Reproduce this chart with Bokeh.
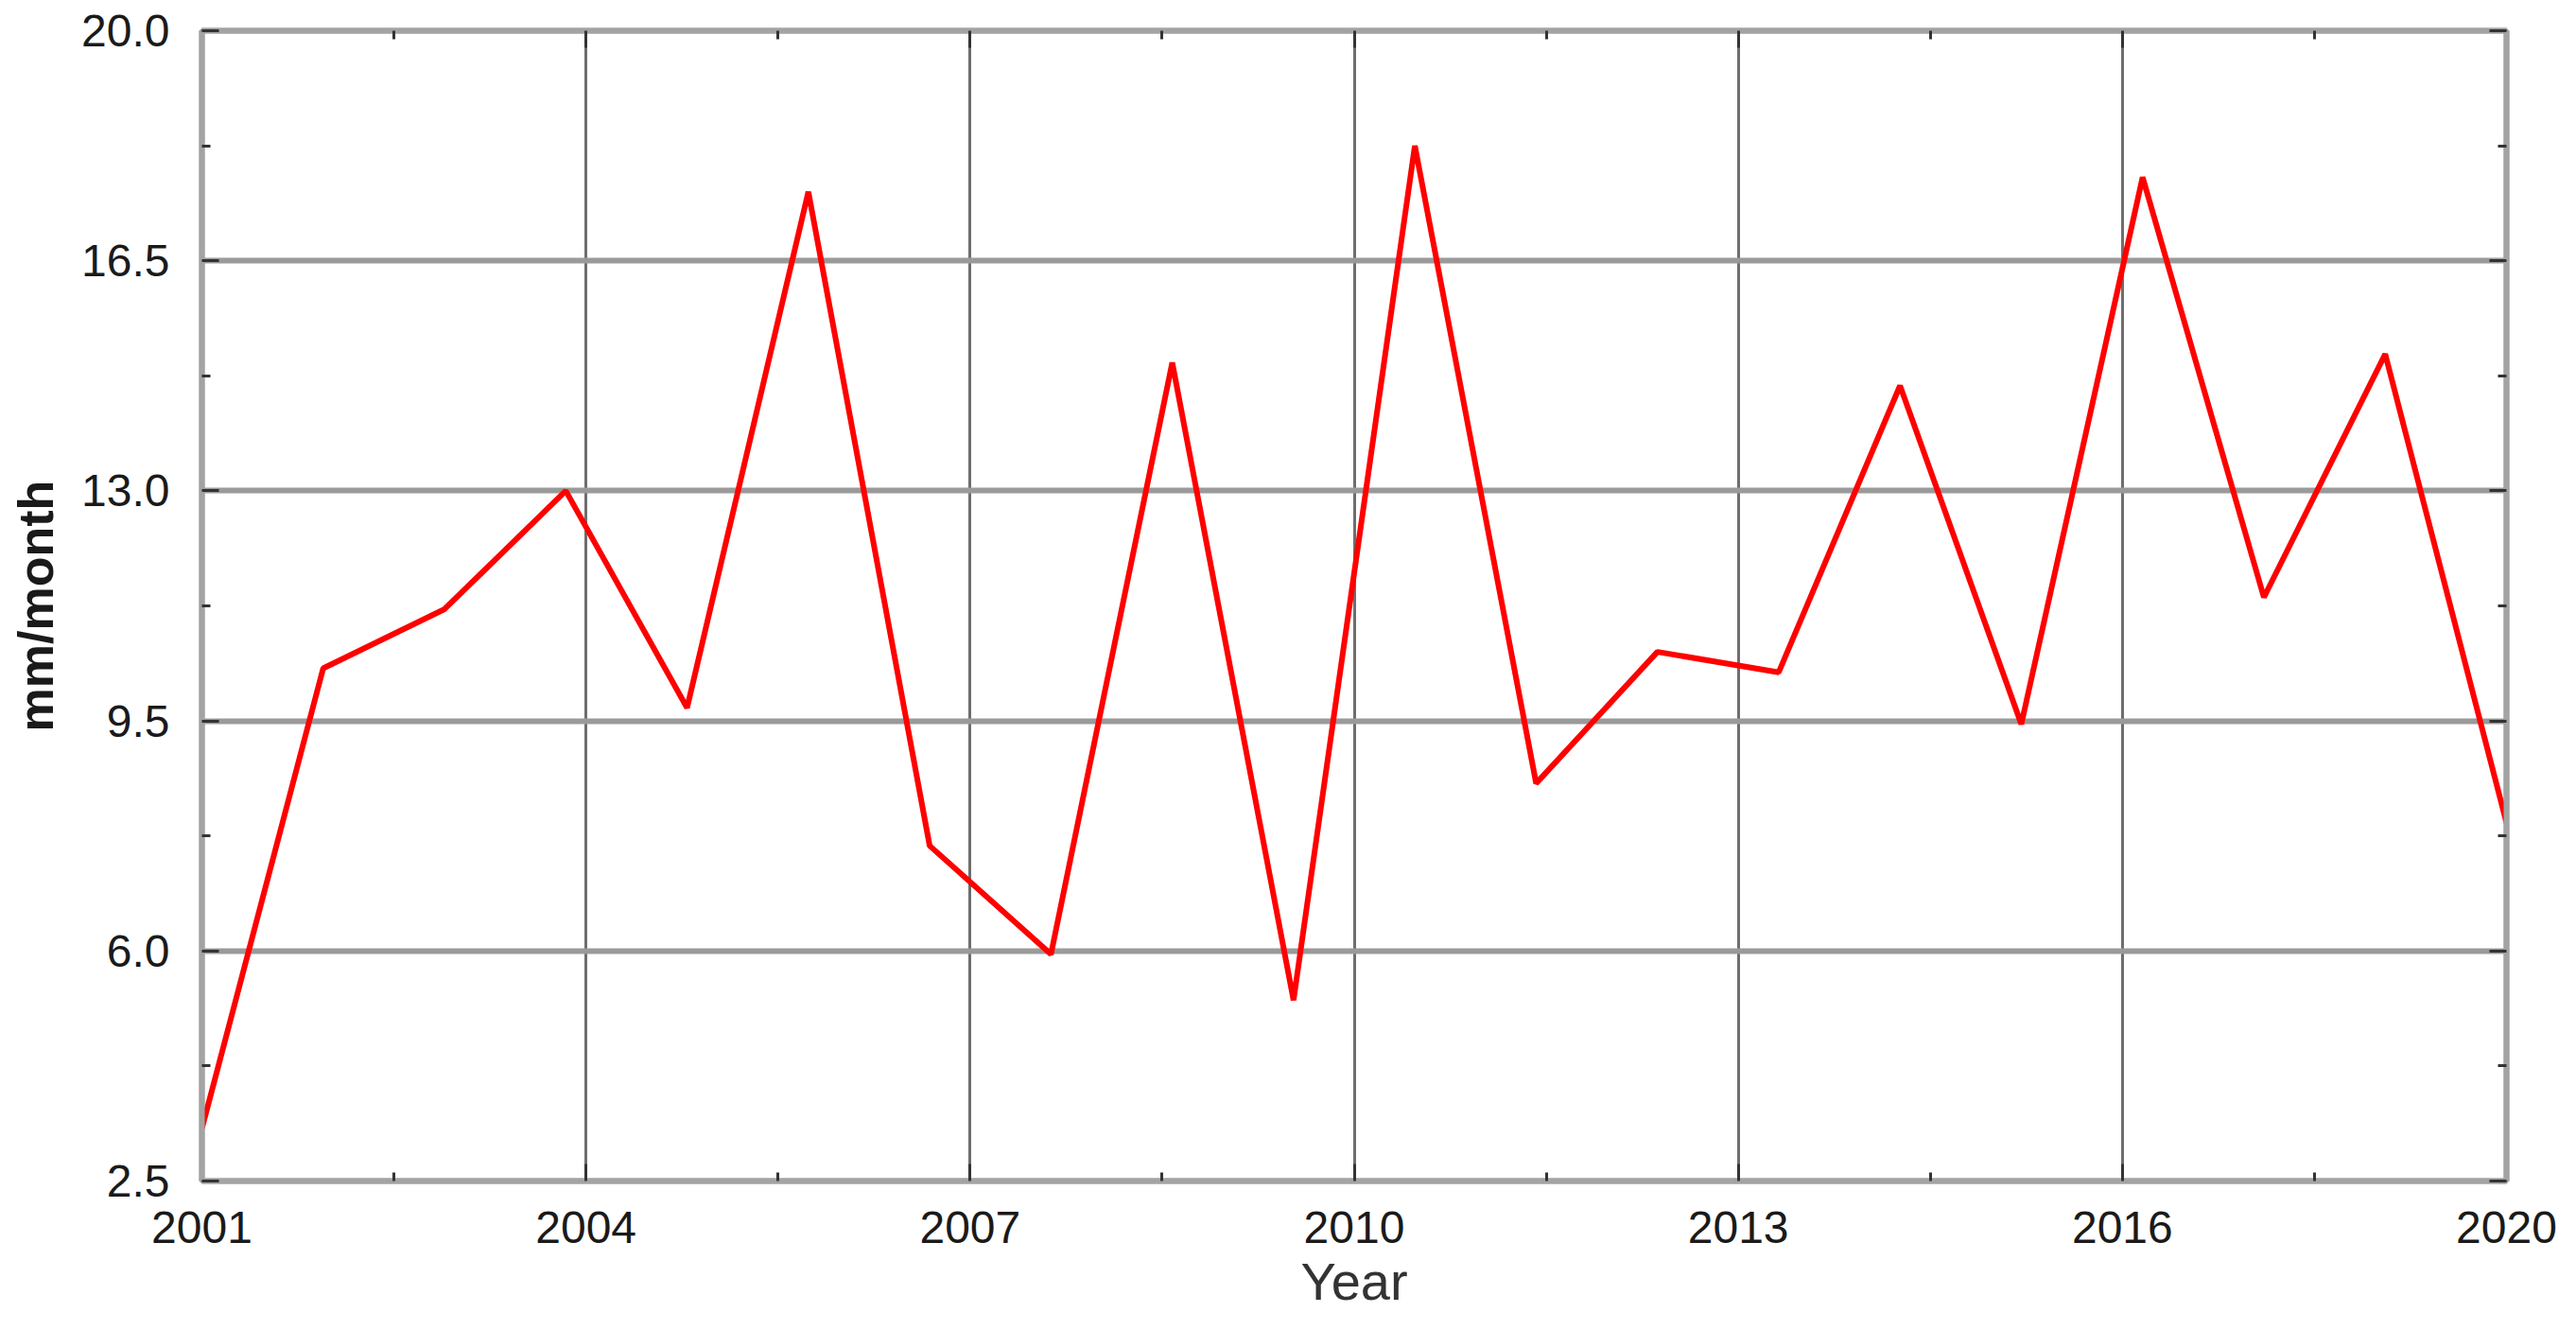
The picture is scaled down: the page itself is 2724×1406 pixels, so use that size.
from bokeh.plotting import figure
from bokeh.models import FixedTicker, LinearAxis, Range1d, PrintfTickFormatter
from bokeh.embed import file_html
from bokeh.resources import INLINE

years = list(range(2001, 2021))
rainfall = [3.3, 10.3, 11.2, 13.0, 9.7, 17.55, 7.6, 5.95, 14.95, 5.25,
            18.25, 8.55, 10.55, 10.24, 14.6, 9.45, 17.77, 11.38, 15.08, 7.95]

x_tick_labels = ["2001", "2004", "2007", "2010", "2013", "2016", "2020"]
y_ticks = [2.5, 6.0, 9.5, 13.0, 16.5, 20.0]

x0, x1 = years[0], years[-1]
n = len(x_tick_labels) - 1
x_major = [x0 + (x1 - x0) * k / n for k in range(n + 1)]
x_minor = [x0 + (x1 - x0) * (k + 0.5) / n for k in range(n)]
y_minor = [(a + b) / 2 for a, b in zip(y_ticks[:-1], y_ticks[1:])]

FONT = "Liberation Sans"
AXIS_GRAY = "#a3a3a3"
TICK_COL = "#333333"

p = figure(width=2708, height=1390, output_backend="svg", toolbar_location=None,
           x_range=Range1d(x0, x1), y_range=Range1d(y_ticks[0], y_ticks[-1]),
           min_border_left=213, min_border_right=58, min_border_top=32,
           min_border_bottom=142)
p.outline_line_color = AXIS_GRAY
p.outline_line_width = 6
p.background_fill_color = "white"

def style_axis(ax, ticks, minors, show_labels):
    ax.ticker = FixedTicker(ticks=ticks, minor_ticks=minors)
    ax.axis_line_color = AXIS_GRAY
    ax.axis_line_width = 6
    ax.major_tick_in = 18
    ax.major_tick_out = 0
    ax.minor_tick_in = 9
    ax.minor_tick_out = 0
    ax.major_tick_line_color = TICK_COL
    ax.major_tick_line_width = 3
    ax.minor_tick_line_color = TICK_COL
    ax.minor_tick_line_width = 3
    if show_labels:
        ax.major_label_text_font = FONT
        ax.major_label_text_font_size = "48px"
        ax.major_label_text_color = "#1a1a1a"
    else:
        ax.major_label_text_font_size = "0px"
        ax.major_label_text_color = None

xa = p.xaxis[0]
style_axis(xa, x_major, x_minor, True)
xa.major_label_overrides = {v: s for v, s in zip(x_major, x_tick_labels)}
xa.major_label_standoff = 32
xa.axis_label = "Year"
xa.axis_label_text_font = FONT
xa.axis_label_text_font_size = "56px"
xa.axis_label_text_font_style = "normal"
xa.axis_label_text_color = "#333333"
xa.axis_label_standoff = 6

ya = p.yaxis[0]
style_axis(ya, y_ticks, y_minor, True)
ya.formatter = PrintfTickFormatter(format="%.1f")
ya.major_label_standoff = 34
ya.axis_label = "mm/month"
ya.axis_label_text_font = FONT
ya.axis_label_text_font_size = "52px"
ya.axis_label_text_font_style = "bold"
ya.axis_label_text_color = "#1a1a1a"
ya.axis_label_standoff = 16

top = LinearAxis()
style_axis(top, x_major, x_minor, False)
p.add_layout(top, "above")
right = LinearAxis()
style_axis(right, y_ticks, y_minor, False)
p.add_layout(right, "right")

p.xgrid.ticker = FixedTicker(ticks=x_major)
p.xgrid.grid_line_color = "#6e6e6e"
p.xgrid.grid_line_width = 3
p.ygrid.ticker = FixedTicker(ticks=y_ticks)
p.ygrid.grid_line_color = "#9a9a9a"
p.ygrid.grid_line_width = 6

p.line(years, rainfall, line_color="#ff0000", line_width=6)

open("out.html", "w").write(file_html(p, INLINE))
